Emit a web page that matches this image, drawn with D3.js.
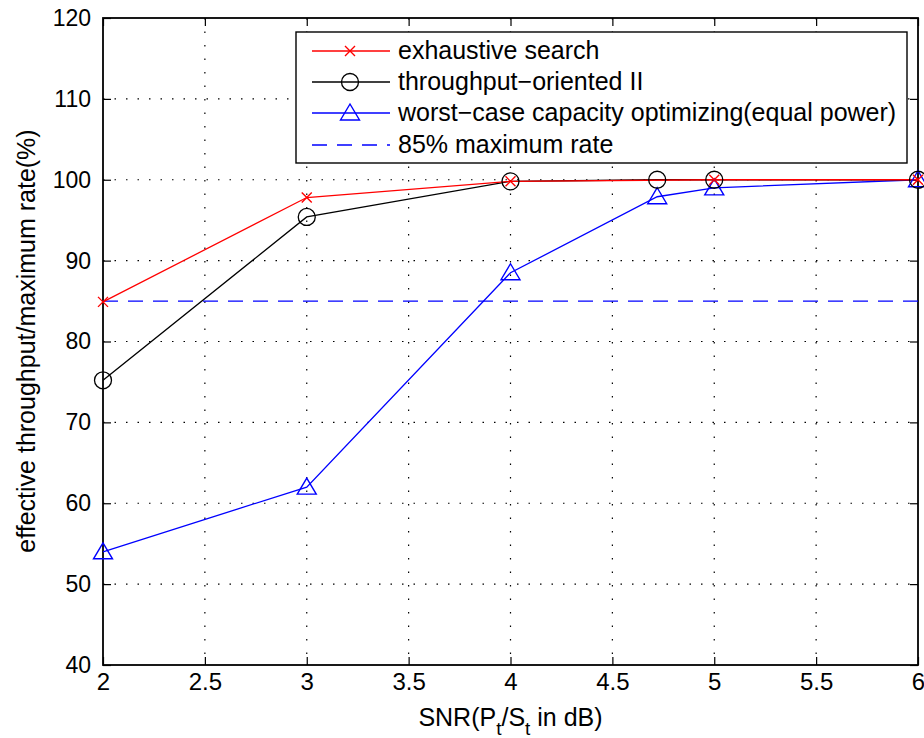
<!DOCTYPE html>
<html>
<head>
<meta charset="utf-8">
<title>throughput</title>
<script src="https://cdn.jsdelivr.net/npm/d3@7"></script>
<style>
  body { margin: 0; background: #fff; }
  text { font-family: "Liberation Sans", Arial, sans-serif; fill: #000; }
</style>
</head>
<body>
<svg width="924" height="738"></svg>
<script>
// data
var xTicks = [2, 2.5, 3, 3.5, 4, 4.5, 5, 5.5, 6];
var yTicks = [40, 50, 60, 70, 80, 90, 100, 110, 120];

var exhaustiveX = [2, 3, 4, 5, 6];
var exhaustiveY = [84.9, 97.8, 99.8, 100, 100];

var orientedX = [2, 3, 4, 4.72, 5, 6];
var orientedY = [75.2, 95.4, 99.8, 100, 100, 100];

var worstX = [2, 3, 4, 4.72, 5, 6];
var worstY = [54.0, 62.0, 88.5, 97.9, 99.0, 100];

var refLevel = 85;

var legendLabels = ["exhaustive search", "throughput\u2212oriented II",
  "worst\u2212case capacity optimizing(equal power)", "85% maximum rate"];

var svg = d3.select("svg");
var L = 103, R = 918, T = 18, B = 665;

var x = d3.scaleLinear().domain([2, 6]).range([L, R]);
var y = d3.scaleLinear().domain([40, 120]).range([B, T]);

// grid
var grid = svg.append("g");
xTicks.slice(1, -1).forEach(function (t) {
  grid.append("line").attr("x1", x(t)).attr("x2", x(t)).attr("y1", T).attr("y2", B)
    .attr("stroke", "#000").attr("stroke-width", 1.2).attr("stroke-dasharray", "1.5,12");
});
yTicks.slice(1, -1).forEach(function (t) {
  grid.append("line").attr("x1", L).attr("x2", R).attr("y1", y(t)).attr("y2", y(t))
    .attr("stroke", "#000").attr("stroke-width", 1.2).attr("stroke-dasharray", "1.5,10");
});

// axes, ticks pointing inward like matlab
var axB = d3.axisBottom(x).tickValues(xTicks).tickFormat(d3.format("")).tickSize(-8).tickPadding(8);
var axL = d3.axisLeft(y).tickValues(yTicks).tickSize(-8).tickPadding(12);
var axT = d3.axisTop(x).tickValues(xTicks).tickFormat("").tickSize(-8);
var axR = d3.axisRight(y).tickValues(yTicks).tickFormat("").tickSize(-8);

function style(size) {
  return function (g) {
    g.selectAll(".tick line").attr("stroke", "#000").attr("stroke-width", 1.2);
    g.selectAll(".tick text").style("font-size", size).attr("font-family", "Liberation Sans, Arial, sans-serif");
  };
}
svg.append("g").attr("transform", "translate(0," + B + ")").call(axB).call(style("24px"));
svg.append("g").attr("transform", "translate(" + L + ",0)").call(axL).call(style("23px"));
svg.append("g").attr("transform", "translate(0," + T + ")").call(axT).call(style("23px"));
svg.append("g").attr("transform", "translate(" + R + ",0)").call(axR).call(style("23px"));
svg.selectAll(".domain").remove();
svg.append("rect").attr("x", L).attr("y", T).attr("width", R - L).attr("height", B - T)
  .attr("fill", "none").attr("stroke", "#000").attr("stroke-width", 1.8);

// axis labels
var xl = svg.append("text").attr("x", (L + R) / 2).attr("y", 726).attr("text-anchor", "middle")
  .style("font-size", "25px");
xl.append("tspan").text("SNR(P");
xl.append("tspan").attr("dy", 9).style("font-size", "19px").text("t");
xl.append("tspan").attr("dy", -9).text("/S");
xl.append("tspan").attr("dy", 9).style("font-size", "19px").text("t");
xl.append("tspan").attr("dy", -9).text(" in dB)");

svg.append("text").attr("transform", "translate(35,341) rotate(-90)")
  .attr("text-anchor", "middle").style("font-size", "25px")
  .text("effective throughput/maximum rate(%)");

// series
function pts(xs, ys) { return xs.map(function (v, i) { return [v, ys[i]]; }); }
var line = d3.line().x(function (d) { return x(d[0]); }).y(function (d) { return y(d[1]); });

var red = "#ff0000", blue = "#0000ff";

svg.append("line").attr("x1", x(2)).attr("x2", x(6)).attr("y1", y(refLevel)).attr("y2", y(refLevel))
  .attr("stroke", blue).attr("stroke-width", 1.2).attr("stroke-dasharray", "15,10");

var worst = pts(worstX, worstY);
var oriented = pts(orientedX, orientedY);
var exhaustive = pts(exhaustiveX, exhaustiveY);

svg.append("path").datum(worst).attr("d", line).attr("fill", "none").attr("stroke", blue).attr("stroke-width", 1.3);
svg.append("path").datum(oriented).attr("d", line).attr("fill", "none").attr("stroke", "#000").attr("stroke-width", 1.3);
svg.append("path").datum(exhaustive).attr("d", line).attr("fill", "none").attr("stroke", red).attr("stroke-width", 1.3);

function triangle(g, cx, cy) {
  g.append("path").attr("d", "M" + cx + "," + (cy - 9) + "L" + (cx + 9.5) + "," + (cy + 7) + "L" + (cx - 9.5) + "," + (cy + 7) + "Z")
    .attr("fill", "none").attr("stroke", blue).attr("stroke-width", 1.4);
}
function circle(g, cx, cy) {
  g.append("circle").attr("cx", cx).attr("cy", cy).attr("r", 8.5)
    .attr("fill", "none").attr("stroke", "#000").attr("stroke-width", 1.3);
}
function cross(g, cx, cy) {
  g.append("path").attr("d", "M" + (cx - 5) + "," + (cy - 5) + "L" + (cx + 5) + "," + (cy + 5) + "M" + (cx - 5) + "," + (cy + 5) + "L" + (cx + 5) + "," + (cy - 5))
    .attr("stroke", red).attr("stroke-width", 1.4);
}

var mk = svg.append("g");
worst.forEach(function (d) { triangle(mk, x(d[0]), y(d[1])); });
oriented.forEach(function (d) { circle(mk, x(d[0]), y(d[1])); });
exhaustive.forEach(function (d) { cross(mk, x(d[0]), y(d[1])); });

// legend
var lg = svg.append("g");
lg.append("rect").attr("x", 296).attr("y", 32).attr("width", 611).attr("height", 131)
  .attr("fill", "#fff").attr("stroke", "#000").attr("stroke-width", 1.4);
var rowY = [51, 82, 113, 145];
var colors = [red, "#000", blue, blue];
var drawers = [cross, circle, triangle, null];
legendLabels.forEach(function (lab, i) {
  var ln = lg.append("line").attr("x1", 312).attr("x2", 390).attr("y1", rowY[i]).attr("y2", rowY[i])
    .attr("stroke", colors[i]).attr("stroke-width", 1.3);
  if (i === 3) ln.attr("stroke-dasharray", "15,10");
  if (drawers[i]) drawers[i](lg, 350, rowY[i]);
  lg.append("text").attr("x", 398).attr("y", rowY[i] + 8).style("font-size", "25px").text(lab);
});
</script>
</body>
</html>
